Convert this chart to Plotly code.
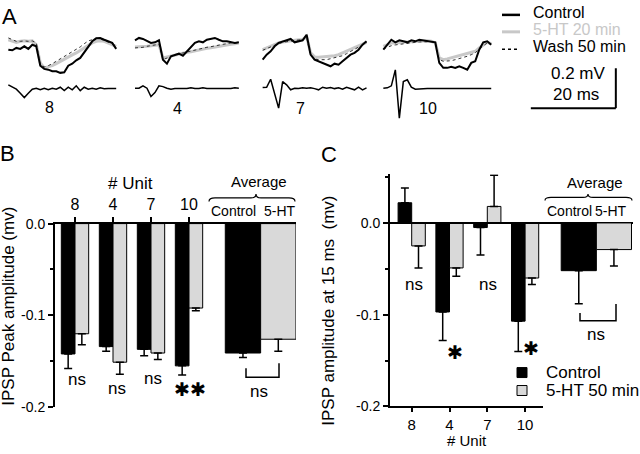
import re
import plotly.graph_objects as go

W, H = 640, 454
FONT = 'Liberation Sans, Arial, Helvetica, sans-serif'
GRAY = '#d9d9d9'
TRACE_GRAY = '#c8c8c8'
# the photographed page lands at y_shot = 6.6 + 0.967 * y_page
Y_OFF, Y_SCALE = 6.6, 0.967

units = ['8', '4', '7', '10']
avg_labels = ['Control', '5-HT']

# B: IPSP peak amplitude (mV)
peak_ctrl = [-0.142, -0.134, -0.137, -0.155]
peak_ctrl_err = [0.016, 0.005, 0.007, 0.010]
peak_5ht = [-0.120, -0.151, -0.141, -0.092]
peak_5ht_err = [0.012, 0.013, 0.007, 0.003]
peak_avg = [-0.141, -0.126]
peak_avg_err = [0.005, 0.013]
peak_stats = ['ns', 'ns', 'ns', '\u2731\u2731', 'ns']

# C: IPSP amplitude at 15 ms (mV)
amp15_ctrl = [0.022, -0.097, -0.005, -0.107]
amp15_ctrl_err = [0.016, 0.031, 0.030, 0.033]
amp15_5ht = [-0.025, -0.049, 0.018, -0.060]
amp15_5ht_err = [0.024, 0.009, 0.034, 0.007]
amp15_avg = [-0.052, -0.029]
amp15_avg_err = [0.036, 0.018]
amp15_stats = ['ns', '\u2731', 'ns', '\u2731', 'ns']

# A: example traces in uV, one sample every 0.94 ms
dt_ms = 0.94
ctrl_8 = [-117, -120, -108, -113, -100, -113, -92, -100, -197, -213, -217, -225, -225, -233,
          -230, -197, -187, -170, -158, -130, -103, -75, -60, -58, -67, -75, -83, -113]
sht_8 = [-67, -75, -80, -75, -72, -75, -73, -92, -183, -208, -203, -197, -187, -175,
         -163, -153, -143, -133, -120, -107, -93, -83, -75, -72, -75, -83, -92, -100]
wash_8 = [-58, -67, -75, -75, -73, -75, -73, -83, -192, -203, -197, -187, -175, -163,
          -153, -142, -130, -117, -103, -87, -73, -67, -60, -63, -70, -80, -87, -97]
spike_8 = [17, 8, -5, -25, -47, -25, -5, 0, -8, 0, -8, 0, -5, 5,
           -12, 5, -8, 12, -12, 5, -5, 0, -5, 2, -3, -2, -2, -2]

ctrl_4 = [-70, -58, -63, -75, -83, -80, -70, -167, -187, -150, -142, -137, -147, -125,
          -103, -83, -75, -80, -67, -63, -58, -67, -75, -75, -80, -83, -80]
sht_4 = [-103, -103, -100, -100, -97, -95, -92, -158, -153, -147, -142, -137, -133, -130,
         -127, -122, -118, -115, -110, -107, -103, -100, -97, -93, -90, -87, -83]
wash_4 = [-108, -107, -105, -100, -97, -93, -90, -167, -158, -150, -143, -138, -133, -128,
          -123, -118, -113, -110, -105, -102, -97, -93, -90, -87, -83, -83, -82]
spike_4 = [0, 0, 12, 0, -42, -22, 12, 8, 0, -5, -2, -2, -2, -2,
           2, -2, -2, 2, -2, -2, -2, -2, 0, -2, -2, 2, 0]

ctrl_7 = [-167, -142, -125, -100, -83, -75, -67, -63, -80, -75, -70, -42, -142, -167,
          -175, -180, -192, -200, -187, -192, -175, -158, -142, -133, -117, -92, -75]
sht_7 = [-117, -108, -100, -92, -83, -78, -75, -70, -67, -67, -67, -50, -133, -153,
         -155, -153, -153, -150, -147, -142, -133, -125, -117, -108, -100, -92, -80]
wash_7 = [-120, -113, -103, -95, -87, -80, -77, -73, -70, -68, -67, -53, -147, -163,
          -167, -167, -167, -162, -158, -153, -147, -137, -127, -117, -107, -93, -80]
spike_7 = [3, 5, 45, -25, -100, 33, 17, -8, 0, -2, 2, 0, 2, -2,
           -8, 5, 0, 3, -2, 2, -5, 5, -2, -8, 5, -8, 2]

ctrl_10 = [-117, -92, -67, -80, -70, -75, -80, -70, -75, -67, -70, -75, -75, -80,
           -183, -208, -208, -203, -208, -200, -208, -217, -183, -175, -117, -80, -75, -92]
sht_10 = [-100, -92, -83, -83, -80, -80, -78, -77, -75, -75, -73, -72, -75, -83,
          -158, -167, -163, -158, -153, -147, -142, -137, -133, -125, -108, -92, -80, -87]
wash_10 = [-113, -103, -97, -93, -90, -87, -83, -82, -80, -78, -77, -75, -77, -83,
           -167, -175, -175, -172, -167, -162, -155, -150, -142, -133, -113, -97, -83, -87]
spike_10 = [0, 2, 12, 92, -150, 33, 42, 5, -5, -3, -3, -2, -2, -2,
            -2, -2, -2, -2, -2, -2, -2, -2, -2, -2, -2, -2, -2, -2]


def px(x):
    return x / W


def py(y):
    return 1 - (y - Y_OFF) / Y_SCALE / H


def path_px(s):
    out, k = [], 0
    for tok in s.split():
        if re.match(r'^[A-Za-z]$', tok):
            out.append(tok)
            continue
        v = float(tok)
        out.append(f'{px(v):.5f}' if k % 2 == 0 else f'{py(v):.5f}')
        k += 1
    return ' '.join(out)


def err_dirs(vals, errs):
    up = [e if v >= 0 else 0 for v, e in zip(vals, errs)]
    down = [e if v < 0 else 0 for v, e in zip(vals, errs)]
    return up, down


fig = go.Figure()

# ---- bar panels B and C
bw, aw = 0.36, 0.93
avg_x = [4.42, 5.35]


def add_bars(ctrl, ctrl_err, sht, sht_err, avg, avg_err, xa, ya):
    for k, (vals, errs, color) in enumerate([(ctrl, ctrl_err, 'black'), (sht, sht_err, GRAY)]):
        sign = -1 if k == 0 else 1
        xs = [i + sign * bw / 2 for i in range(len(units))] + [avg_x[k]]
        ys = list(vals) + [avg[k]]
        es = list(errs) + [avg_err[k]]
        up, down = err_dirs(ys, es)
        fig.add_trace(go.Bar(
            x=xs, y=ys, width=[bw] * len(units) + [aw],
            marker=dict(color=color, line=dict(color='black', width=1)),
            error_y=dict(type='data', symmetric=False, array=up, arrayminus=down,
                         color='black', thickness=1.5, width=4),
            xaxis=xa, yaxis=ya, showlegend=False, hoverinfo='skip'))


add_bars(peak_ctrl, peak_ctrl_err, peak_5ht, peak_5ht_err, peak_avg, peak_avg_err, 'x', 'y')
add_bars(amp15_ctrl, amp15_ctrl_err, amp15_5ht, amp15_5ht_err, amp15_avg, amp15_avg_err, 'x2', 'y2')
fig.add_trace(go.Scatter(x=[None], y=[None], xaxis='x4', yaxis='y2', showlegend=False))

# ---- panel A traces
x_start = [1.96, 31.76, 61.8, 90.2]
spike_base = -0.31
groups = [(ctrl_8, sht_8, wash_8, spike_8), (ctrl_4, sht_4, wash_4, spike_4),
          (ctrl_7, sht_7, wash_7, spike_7), (ctrl_10, sht_10, wash_10, spike_10)]
for x0, (c, s, w, sp) in zip(x_start, groups):
    t = [x0 + k * dt_ms for k in range(len(c))]
    fig.add_trace(go.Scatter(x=t, y=[v / 1000 for v in s], mode='lines',
                             line=dict(color=TRACE_GRAY, width=3), xaxis='x3', yaxis='y3', showlegend=False))
    fig.add_trace(go.Scatter(x=t, y=[v / 1000 for v in w], mode='lines',
                             line=dict(color='#333', width=1, dash='dot'), xaxis='x3', yaxis='y3', showlegend=False))
    fig.add_trace(go.Scatter(x=t, y=[v / 1000 for v in c], mode='lines',
                             line=dict(color='black', width=2), xaxis='x3', yaxis='y3', showlegend=False))
    fig.add_trace(go.Scatter(x=t, y=[spike_base + v / 1000 for v in sp], mode='lines',
                             line=dict(color='black', width=1.5), xaxis='x3', yaxis='y3', showlegend=False))

axis_common = dict(showgrid=False, linecolor='black', linewidth=2, ticks='outside',
                   tickcolor='black', tickwidth=1.5, fixedrange=True)
ytick = dict(tickvals=[0, -0.1, -0.2], ticktext=['0.0', '-0.1', '-0.2'], ticklen=5,
             tickfont=dict(size=14, color='black'))

fig.update_layout(
    width=W, height=H, margin=dict(l=0, r=0, t=0, b=0),
    paper_bgcolor='white', plot_bgcolor='rgba(0,0,0,0)', showlegend=False,
    font=dict(family=FONT, color='black'), barmode='overlay',
    xaxis=dict(domain=[px(55), px(296)], range=[(55 - 75) / 38, (296 - 75) / 38],
               side='top', anchor='y', showline=True, zeroline=False,
               tickvals=list(range(len(units))), ticktext=units, ticklen=5,
               tickfont=dict(size=16, color='black'), **axis_common),
    yaxis=dict(domain=[py(406.7), py(222.7)], range=[-0.2, 0], anchor='x', showline=True,
               zeroline=False, minor=dict(tickmode='array', tickvals=[-0.05, -0.15], ticks='outside',
                                          ticklen=3, tickcolor='black', tickwidth=1.5),
               **ytick, **axis_common),
    xaxis2=dict(domain=[px(390), px(633)], range=[(390 - 411.7) / 37.8, (633 - 411.7) / 37.8],
                anchor='y2', visible=False, fixedrange=True),
    yaxis2=dict(domain=[py(406), py(173.3)], range=[-0.2, 0.053], anchor='x2', showline=True,
                zeroline=True, zerolinecolor='black', zerolinewidth=2,
                minor=dict(tickmode='array', tickvals=[0.05, -0.05, -0.15], ticks='outside',
                           ticklen=3, tickcolor='black', tickwidth=1.5),
                **ytick, **axis_common),
    xaxis4=dict(domain=[px(390), px(543)], range=[(390 - 411.7) / 37.8, (543 - 411.7) / 37.8],
                anchor='y2', side='bottom', showline=True, zeroline=False,
                tickvals=list(range(len(units))), ticktext=units, ticklen=4,
                tickfont=dict(size=15, color='black'), **axis_common),
    xaxis3=dict(domain=[0, 1], range=[0, W / 4.25], visible=False, fixedrange=True),
    yaxis3=dict(domain=[py(130), 1], range=[-(130 - 25) / 200, (25 - Y_OFF) / 200],
                anchor='x3', visible=False, fixedrange=True),
)

# ---- annotations
ann = []


def txt(x, y, s, size, color='black', xanchor='center', angle=0):
    ann.append(dict(x=px(x), y=py(y), xref='paper', yref='paper', text=s, showarrow=False,
                    xanchor=xanchor, yanchor='middle', textangle=angle,
                    font=dict(size=size, color=color, family=FONT)))


# panel letters
txt(9, 15, 'A', 22)
txt(7.5, 152, 'B', 22)
txt(329, 153, 'C', 22)

# panel A labels / legend / scale bar
for lab, (x, y) in zip(units, [(49, 106), (177, 107), (300, 107), (428, 107)]):
    txt(x, y, lab, 16)
txt(531, 11.5, 'Control', 16, xanchor='left')
txt(531, 28.5, '5-HT 20 min', 16, color=TRACE_GRAY, xanchor='left')
txt(531, 45.5, 'Wash 50 min', 16, xanchor='left')
txt(578, 72, '0.2 mV', 17)
txt(576, 93, '20 ms', 17)

# panel B text
txt(9, 306, 'IPSP Peak amplitude (mv)', 17, angle=-90)
txt(130, 182.5, '# Unit', 17)
txt(259, 181, 'Average', 15)
txt(233, 210, avg_labels[0], 14)
txt(280, 210, avg_labels[1], 14)
for s, (x, y) in zip(peak_stats, [(77, 379), (117, 387.5), (152.5, 377.5), (190, 388.5), (259, 391)]):
    txt(x, y, s, 17 if s == 'ns' else 19)

# panel C text
txt(329, 310, 'IPSP amplitude at 15 ms\u00a0 (mv)', 17, angle=-90)
txt(467, 440.5, '# Unit', 15)
txt(595, 181.7, 'Average', 15)
txt(569, 210, avg_labels[0], 14)
txt(611, 210, avg_labels[1], 14)
for s, (x, y) in zip(amp15_stats, [(414, 283.3), (455.3, 351.7), (488.3, 283.3), (530.8, 348.3), (596.3, 334)]):
    txt(x, y, s, 17 if s == 'ns' else 19)
txt(544, 372, 'Control', 17, xanchor='left')
txt(544, 390, '5-HT 50 min', 17, xanchor='left')

fig.update_layout(annotations=ann)

# ---- shapes
shapes = []


def seg(x0, y0, x1, y1, color='black', width=2, dash='solid'):
    shapes.append(dict(type='line', xref='paper', yref='paper', x0=px(x0), y0=py(y0),
                       x1=px(x1), y1=py(y1), line=dict(color=color, width=width, dash=dash)))


def path(s, width=1.5):
    shapes.append(dict(type='path', xref='paper', yref='paper', path=path_px(s),
                       line=dict(color='black', width=width)))


# A legend lines
seg(502, 13.5, 520, 13.5, width=2.5)
seg(502, 30.5, 520, 30.5, color=TRACE_GRAY, width=3)
seg(502, 48, 520, 48, width=1.5, dash='dot')
# A scale bar (20 ms x 0.2 mV)
sb_x, sb_y = 144.9, -0.41
shapes.append(dict(type='line', xref='x3', yref='y3', x0=sb_x, x1=sb_x, y0=sb_y, y1=sb_y + 0.2,
                   line=dict(color='black', width=2)))
shapes.append(dict(type='line', xref='x3', yref='y3', x0=sb_x - 20, x1=sb_x, y0=sb_y, y1=sb_y,
                   line=dict(color='black', width=2)))

# braces over Control / 5-HT averages
path('M 209 200.5 Q 209 197 215 197 L 251 197 Q 256 197 256 193 Q 256 197 261 197 L 289 197 Q 295 197 295 200.5', 1.2)
path('M 545 199.5 Q 545 196.5 551 196.5 L 583 196.5 Q 588 196.5 588 193 Q 588 196.5 593 196.5 L 626 196.5 Q 632 196.5 632 199.5', 1.2)
# ns brackets
path('M 246 367.7 L 246 376.7 L 279 376.7 L 279 362.7')
path('M 580 312.3 L 580 320 L 616 320 L 616 303.3')

# C legend squares
shapes.append(dict(type='rect', xref='paper', yref='paper', x0=px(517), x1=px(527), y0=py(377), y1=py(367),
                   fillcolor='black', line=dict(color='black', width=1)))
shapes.append(dict(type='rect', xref='paper', yref='paper', x0=px(517), x1=px(527), y0=py(395), y1=py(385),
                   fillcolor=GRAY, line=dict(color='black', width=1)))

fig.update_layout(shapes=shapes)

# page body margin would push the 640x454 figure off the window
fig.write_html("out.html", config={'displayModeBar': False},
               post_script="document.body.style.margin = '0';")
